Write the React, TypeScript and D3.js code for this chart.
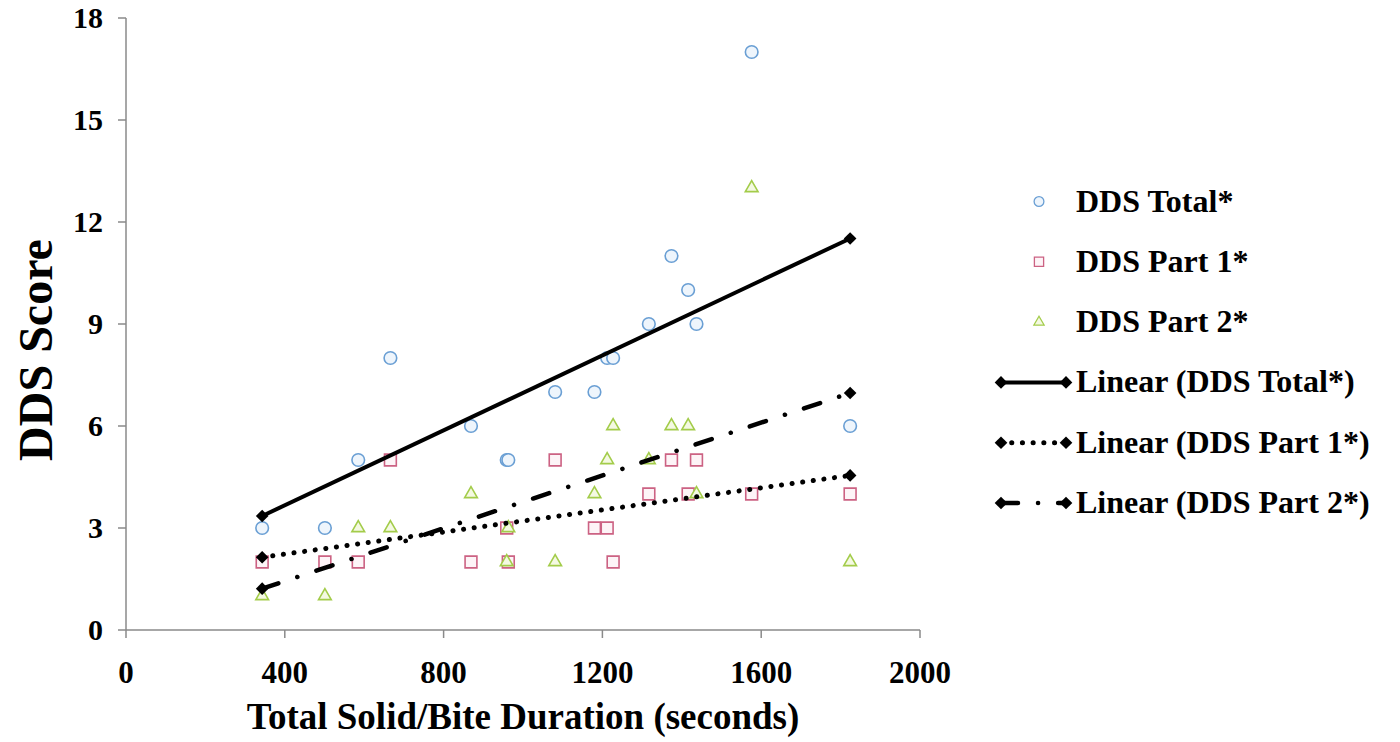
import React from 'react';
import * as d3 from 'd3';

// one entry per participant
const durations = [343, 501, 585, 666, 869, 959, 963, 1081, 1180, 1212, 1227, 1317, 1374, 1416, 1437, 1576, 1824];
const ddsTotal = [3, 3, 5, 8, 6, 5, 5, 7, 7, 8, 8, 9, 11, 10, 9, 17, 6];
const ddsPart1 = [2, 2, 2, 5, 2, 3, 2, 5, 3, 3, 2, 4, 5, 4, 5, 4, 4];
const ddsPart2 = [1, 1, 3, 3, 4, 2, 3, 2, 4, 5, 6, 5, 6, 6, 4, 13, 2];

const xTicks = [0, 400, 800, 1200, 1600, 2000];
const yTicks = [0, 3, 6, 9, 12, 15, 18];

const seriesNames = ['DDS Total*', 'DDS Part 1*', 'DDS Part 2*'];
const trendNames = ['Linear (DDS Total*)', 'Linear (DDS Part 1*)', 'Linear (DDS Part 2*)'];

const FONT = '"Liberation Serif", "Times New Roman", serif';

// least squares fit, like Excel's linear trendline
function fitLine(xs, ys) {
  const mx = d3.mean(xs);
  const my = d3.mean(ys);
  let sxy = 0;
  let sxx = 0;
  xs.forEach((v, i) => {
    sxy += (v - mx) * (ys[i] - my);
    sxx += (v - mx) * (v - mx);
  });
  const slope = sxy / sxx;
  return (v) => my + slope * (v - mx);
}

const App = () => {
  const x = d3.scaleLinear().domain([0, 2000]).range([126, 920]);
  const y = d3.scaleLinear().domain([0, 18]).range([630, 18]);

  const styles = [
    { shape: d3.symbolCircle, size: 125, stroke: '#6a9fd4', fill: '#eef5fc', legendSize: 75 },
    { shape: d3.symbolSquare, size: 140, stroke: '#cc6283', fill: '#fdf4f7', legendSize: 85 },
    { shape: d3.symbolTriangle, size: 70, stroke: '#a3cc4a', fill: '#f4f9e2', legendSize: 45 },
  ];
  const dashes = [null, '0.1 10.6', '17 20 0.1 20'];
  const widths = [4, 5, 4.5];
  const values = [ddsTotal, ddsPart1, ddsPart2];

  const diamond = d3.symbol().type(d3.symbolSquare).size(80)();
  const line = d3.line();
  const [xMin, xMax] = d3.extent(durations);

  const legendX = 1039;
  const legendBase = 211.5;
  const legendStep = 60.3;

  return (
    <svg width={1400} height={742} style={{ position: 'absolute', left: 0, top: 0, background: '#fff' }}>
      <rect width={1400} height={742} fill="#fff" />
      {/* y axis */}
      <line x1={x(0)} x2={x(0)} y1={y(0)} y2={y(18)} stroke="#8a8a8a" strokeWidth={1.5} />
      {yTicks.map((t) => (
        <g key={'y' + t}>
          <line x1={x(0) - 8} x2={x(0)} y1={y(t)} y2={y(t)} stroke="#8a8a8a" strokeWidth={1.5} />
          <text x={103} y={y(t) + 10} textAnchor="end" fontFamily={FONT} fontWeight="bold" fontSize={30}>{t}</text>
        </g>
      ))}
      {/* x axis */}
      <line x1={x(0)} x2={x(2000)} y1={y(0)} y2={y(0)} stroke="#8a8a8a" strokeWidth={1.5} />
      {xTicks.map((t) => (
        <g key={'x' + t}>
          <line x1={x(t)} x2={x(t)} y1={y(0)} y2={y(0) + 8} stroke="#8a8a8a" strokeWidth={1.5} />
          <text x={x(t)} y={683} textAnchor="middle" fontFamily={FONT} fontWeight="bold" fontSize={31}>{t}</text>
        </g>
      ))}
      <text x={523} y={729} textAnchor="middle" fontFamily={FONT} fontWeight="bold" fontSize={37}>
        Total Solid/Bite Duration (seconds)
      </text>
      <text transform="translate(52, 350) rotate(-90)" textAnchor="middle" fontFamily={FONT} fontWeight="bold" fontSize={48}>
        DDS Score
      </text>

      {/* points */}
      {values.map((vals, s) => (
        <g key={'s' + s}>
          {vals.map((v, i) => (
            <path
              key={i}
              d={d3.symbol().type(styles[s].shape).size(styles[s].size)()}
              transform={`translate(${x(durations[i])},${y(v)})`}
              fill={styles[s].fill}
              stroke={styles[s].stroke}
              strokeWidth={1.6}
            />
          ))}
        </g>
      ))}

      {/* trend lines */}
      {values.map((vals, s) => {
        const f = fitLine(durations, vals);
        const pts = [[x(xMin), y(f(xMin))], [x(xMax), y(f(xMax))]];
        return (
          <g key={'t' + s}>
            <path
              d={line(pts)}
              fill="none"
              stroke="#000"
              strokeWidth={widths[s]}
              strokeDasharray={dashes[s] || undefined}
              strokeLinecap={s === 0 ? 'butt' : 'round'}
            />
            {pts.map((p, k) => (
              <path key={k} d={diamond} transform={`translate(${p[0]},${p[1]}) rotate(45)`} fill="#000" />
            ))}
          </g>
        );
      })}

      {/* legend */}
      {seriesNames.map((name, s) => {
        const base = legendBase + s * legendStep;
        return (
          <g key={'l' + s}>
            <path
              d={d3.symbol().type(styles[s].shape).size(styles[s].legendSize)()}
              transform={`translate(${legendX},${base - 10})`}
              fill={styles[s].fill}
              stroke={styles[s].stroke}
              strokeWidth={1.3}
            />
            <text x={1076} y={base} fontFamily={FONT} fontWeight="bold" fontSize={32}>{name}</text>
          </g>
        );
      })}
      {trendNames.map((name, s) => {
        const base = legendBase + (s + 3) * legendStep;
        const cy = base - 10;
        return (
          <g key={'lt' + s}>
            <path
              d={line([[1001, cy], [1066, cy]])}
              stroke="#000"
              strokeWidth={widths[s]}
              strokeDasharray={dashes[s] || undefined}
              strokeLinecap={s === 0 ? 'butt' : 'round'}
            />
            <path d={diamond} transform={`translate(1001,${cy}) rotate(45)`} fill="#000" />
            <path d={diamond} transform={`translate(1066,${cy}) rotate(45)`} fill="#000" />
            <text x={1076} y={base} fontFamily={FONT} fontWeight="bold" fontSize={32}>{name}</text>
          </g>
        );
      })}
    </svg>
  );
};

export default App;
